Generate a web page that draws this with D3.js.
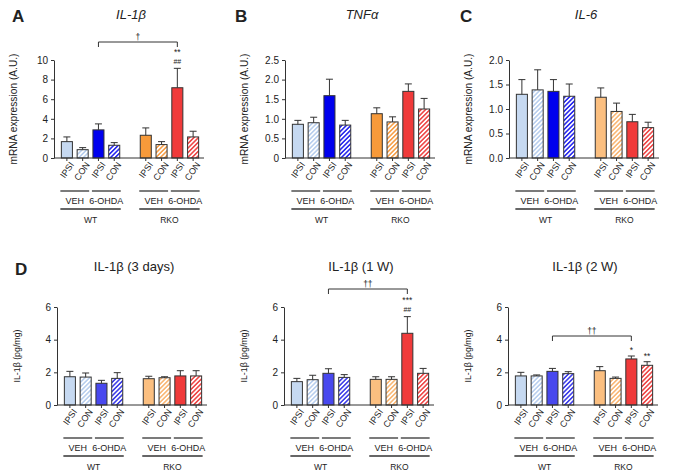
<!DOCTYPE html>
<html>
<head>
<meta charset="utf-8">
<script src="https://cdn.jsdelivr.net/npm/d3@7"></script>
<style>
  body { margin: 0; background: #fff; }
  text { font-family: "Liberation Sans", Arial, sans-serif; fill: #222; }
</style>
</head>
<body>
<script>
// categories
const sideLabels = ["IPSI", "CON", "IPSI", "CON", "IPSI", "CON", "IPSI", "CON"];
const treatmentLabels = ["VEH", "6-OHDA", "VEH", "6-OHDA"];
const genotypeLabels = ["WT", "RKO"];

// A: IL-1b mRNA
const il1bMrnaMean = [1.67, 0.85, 2.87, 1.30, 2.32, 1.37, 7.17, 2.15];
const il1bMrnaSem = [0.48, 0.21, 0.61, 0.27, 0.75, 0.30, 1.98, 0.58];
const il1bMrnaTicks = [0, 2, 4, 6, 8, 10];
const il1bMrnaStars = ["", "", "", "", "", "", "**", ""];
const il1bMrnaHash = ["", "", "", "", "", "", "##", ""];

// B: TNFa mRNA
const tnfMrnaMean = [0.86, 0.90, 1.59, 0.84, 1.13, 0.92, 1.70, 1.25];
const tnfMrnaSem = [0.10, 0.14, 0.42, 0.12, 0.15, 0.13, 0.19, 0.27];
const tnfMrnaTicks = ["0", "0.5", "1.0", "1.5", "2.0", "2.5"];

// C: IL-6 mRNA
const il6MrnaMean = [1.30, 1.39, 1.36, 1.26, 1.24, 0.95, 0.74, 0.62];
const il6MrnaSem = [0.30, 0.41, 0.24, 0.25, 0.19, 0.17, 0.15, 0.11];
const il6MrnaTicks = ["0.0", "0.5", "1.0", "1.5", "2.0"];

// D: IL-1b protein
const il1b3dMean = [1.73, 1.71, 1.33, 1.63, 1.61, 1.67, 1.78, 1.78];
const il1b3dSem = [0.33, 0.25, 0.18, 0.35, 0.15, 0.06, 0.32, 0.32];
const il1b1wMean = [1.43, 1.55, 1.94, 1.69, 1.57, 1.57, 4.39, 1.94];
const il1b1wSem = [0.20, 0.27, 0.28, 0.17, 0.16, 0.16, 1.02, 0.30];
const il1b1wStars = ["", "", "", "", "", "", "***", ""];
const il1b1wHash = ["", "", "", "", "", "", "##", ""];
const il1b2wMean = [1.78, 1.78, 2.06, 1.92, 2.10, 1.63, 2.82, 2.43];
const il1b2wSem = [0.22, 0.06, 0.18, 0.12, 0.25, 0.08, 0.18, 0.22];
const il1b2wStars = ["", "", "", "", "", "", "*", "**"];
const proteinTicks = [0, 2, 4, 6];

const noMarks = ["", "", "", "", "", "", "", ""];

// colour sets
const paletteAB = ["#c6d9f1", "#b9cfee", "#0000ee", "#2a2aee", "#f79a3a", "#f7a04a", "#f03a3a", "#ee4a4a"];
const paletteC = ["#c6d9f1", "#b9cfee", "#0000ee", "#2a2aee", "#fbbf80", "#f9b877", "#f03a3a", "#ee4a4a"];
const paletteD = ["#c6d9f1", "#b9cfee", "#4848ee", "#4040e8", "#fbbf80", "#f9b877", "#f03a3a", "#ee4a4a"];

const svg = d3.select("body").append("svg")
    .attr("width", 683)
    .attr("height", 475);

const defs = svg.append("defs");
const hatchIds = {};
function hatch(color) {
    if (hatchIds[color]) return hatchIds[color];
    const id = "hatch" + Object.keys(hatchIds).length;
    const p = defs.append("pattern")
        .attr("id", id)
        .attr("patternUnits", "userSpaceOnUse")
        .attr("width", 3.2)
        .attr("height", 3.2)
        .attr("patternTransform", "rotate(45)");
    p.append("rect").attr("width", 3.2).attr("height", 3.2).attr("fill", "#fff");
    p.append("rect").attr("width", 1.6).attr("height", 3.2).attr("fill", color);
    hatchIds[color] = id;
    return id;
}

const barKeys = ["b0", "b1", "b2", "b3", "b4", "b5", "b6", "b7"];
const slotKeys = ["b0", "b1", "b2", "b3", "gap", "b4", "b5", "b6", "b7"];

function drawPanel(cfg) {
    const g = svg.append("g");
    const ax = cfg.ax;
    const x = d3.scaleBand()
        .domain(slotKeys)
        .range([ax + 5, ax + 147])
        .paddingInner(0.3)
        .paddingOuter(0.15);
    const yMax = +cfg.ticks[cfg.ticks.length - 1];
    const y = d3.scaleLinear()
        .domain([0, yMax])
        .range([cfg.yBottom, cfg.yTop]);
    const bw = x.bandwidth();
    const cx = i => x(barKeys[i]) + bw / 2;

    // letter + title
    if (cfg.letter) {
        g.append("text")
            .attr("x", cfg.letterX)
            .attr("y", cfg.letterY)
            .style("font-size", "17px")
            .style("font-weight", "bold")
            .text(cfg.letter);
    }
    g.append("text")
        .attr("x", ax + 77)
        .attr("y", cfg.titleY)
        .attr("text-anchor", "middle")
        .style("font-size", "13px")
        .style("font-style", cfg.italic ? "italic" : "normal")
        .text(cfg.title);

    // y axis
    const yAxis = g.append("g")
        .attr("transform", `translate(${ax},0)`)
        .call(d3.axisLeft(y)
            .tickValues(cfg.ticks.map(Number))
            .tickFormat((d, i) => cfg.ticks[i])
            .tickSizeInner(3)
            .tickSizeOuter(0));
    yAxis.selectAll("path, line").attr("stroke", "#333");
    yAxis.selectAll("text").style("font-size", "10px").attr("fill", "#222")
        .style("font-family", "Liberation Sans, Arial, sans-serif");

    g.append("text")
        .attr("transform", `translate(${ax - 37},${(cfg.yTop + cfg.yBottom) / 2}) rotate(-90)`)
        .attr("text-anchor", "middle")
        .style("font-size", cfg.ylabelSize)
        .text(cfg.ylabel);

    // bars
    g.selectAll(".bar")
        .data(cfg.mean)
        .enter()
        .append("rect")
        .attr("class", "bar")
        .attr("x", (d, i) => x(barKeys[i]))
        .attr("y", d => y(d))
        .attr("width", bw)
        .attr("height", d => cfg.yBottom - y(d))
        .attr("fill", (d, i) => i % 2 === 0 ? cfg.colors[i] : `url(#${hatch(cfg.colors[i])})`)
        .attr("stroke", "#333")
        .attr("stroke-width", 1);

    // error bars
    g.selectAll(".err")
        .data(cfg.mean)
        .enter()
        .append("path")
        .attr("fill", "none")
        .attr("stroke", "#333")
        .attr("stroke-width", 1)
        .attr("d", (d, i) => {
            const top = y(d + cfg.sem[i]);
            return `M${cx(i)},${y(d)}V${top}M${cx(i) - 3.5},${top}H${cx(i) + 3.5}`;
        });

    // x axis
    const xAxis = g.append("g")
        .attr("transform", `translate(0,${cfg.yBottom})`)
        .call(d3.axisBottom(x)
            .tickValues(barKeys)
            .tickFormat("")
            .tickSizeInner(3)
            .tickSizeOuter(0));
    xAxis.select(".domain").remove();
    xAxis.selectAll("line").attr("stroke", "#333");
    g.append("line")
        .attr("x1", ax).attr("x2", ax + 150)
        .attr("y1", cfg.yBottom).attr("y2", cfg.yBottom)
        .attr("stroke", "#333");

    // rotated side labels
    g.selectAll(".side")
        .data(sideLabels)
        .enter()
        .append("text")
        .attr("transform", (d, i) => `translate(${cx(i) + 5},${cfg.yBottom + 5}) rotate(-55)`)
        .attr("text-anchor", "end")
        .attr("dy", "0.35em")
        .style("font-size", "9px")
        .text(d => d);

    // treatment lines and labels
    treatmentLabels.forEach((t, k) => {
        const left = x(barKeys[2 * k]) - 1;
        const right = x(barKeys[2 * k + 1]) + bw + 1;
        g.append("line")
            .attr("x1", left).attr("x2", right)
            .attr("y1", cfg.yBottom + 33).attr("y2", cfg.yBottom + 33)
            .attr("stroke", "#333").attr("stroke-width", 1.3);
        g.append("text")
            .attr("x", (left + right) / 2)
            .attr("y", cfg.yBottom + 46)
            .attr("text-anchor", "middle")
            .style("font-size", "9px")
            .text(t);
    });
    genotypeLabels.forEach((t, k) => {
        const left = x(barKeys[4 * k]) - 1;
        const right = x(barKeys[4 * k + 3]) + bw + 1;
        g.append("line")
            .attr("x1", left).attr("x2", right)
            .attr("y1", cfg.yBottom + 51).attr("y2", cfg.yBottom + 51)
            .attr("stroke", "#333").attr("stroke-width", 1.3);
        g.append("text")
            .attr("x", (left + right) / 2)
            .attr("y", cfg.yBottom + 65)
            .attr("text-anchor", "middle")
            .style("font-size", "8.5px")
            .text(t);
    });

    // bracket
    if (cfg.bracket) {
        const b = cfg.bracket;
        const x1 = cx(b.from), x2 = cx(b.to);
        g.append("path")
            .attr("fill", "none")
            .attr("stroke", "#333")
            .attr("d", `M${x1},${b.y + 5}V${b.y}H${x2}V${b.y + 5}`);
        g.append("text")
            .attr("x", (x1 + x2) / 2)
            .attr("y", b.y - 2)
            .attr("text-anchor", "middle")
            .style("font-size", "8.5px")
            .text(b.label);
    }

    // significance marks
    cfg.mean.forEach((d, i) => {
        const top = y(d + cfg.sem[i]);
        const hash = cfg.hash[i];
        const star = cfg.stars[i];
        let starBase = top - 3;
        if (hash) {
            g.append("text")
                .attr("x", cx(i)).attr("y", top - 4.5)
                .attr("text-anchor", "middle")
                .style("font-size", "7px")
                .text(hash);
            starBase = top - 13.5;
        }
        if (star) {
            g.append("text")
                .attr("x", cx(i)).attr("y", starBase)
                .attr("text-anchor", "middle")
                .style("font-size", "8.5px")
                .text(star);
        }
    });
}

const mrnaLabel = "mRNA expression (A.U.)";
const proteinLabel = "IL-1β (pg/mg)";

drawPanel({ letter: "A", letterX: 12, letterY: 22, title: "IL-1β", italic: true, titleY: 19,
    ax: 54, yTop: 60, yBottom: 158, ticks: il1bMrnaTicks, ylabel: mrnaLabel, ylabelSize: "10.2px",
    mean: il1bMrnaMean, sem: il1bMrnaSem, colors: paletteAB,
    stars: il1bMrnaStars, hash: il1bMrnaHash, bracket: { from: 2, to: 6, y: 42, label: "†" } });

drawPanel({ letter: "B", letterX: 235, letterY: 22, title: "TNFα", italic: true, titleY: 19,
    ax: 285, yTop: 60, yBottom: 158, ticks: tnfMrnaTicks, ylabel: mrnaLabel, ylabelSize: "10.2px",
    mean: tnfMrnaMean, sem: tnfMrnaSem, colors: paletteAB,
    stars: noMarks, hash: noMarks });

drawPanel({ letter: "C", letterX: 460, letterY: 22, title: "IL-6", italic: true, titleY: 19,
    ax: 509, yTop: 60, yBottom: 158, ticks: il6MrnaTicks, ylabel: mrnaLabel, ylabelSize: "10.2px",
    mean: il6MrnaMean, sem: il6MrnaSem, colors: paletteC,
    stars: noMarks, hash: noMarks });

drawPanel({ letter: "D", letterX: 15, letterY: 275, title: "IL-1β (3 days)", italic: false, titleY: 271,
    ax: 57, yTop: 307, yBottom: 405, ticks: proteinTicks, ylabel: proteinLabel, ylabelSize: "8.8px",
    mean: il1b3dMean, sem: il1b3dSem, colors: paletteD,
    stars: noMarks, hash: noMarks });

drawPanel({ title: "IL-1β (1 W)", italic: false, titleY: 271,
    ax: 284, yTop: 307, yBottom: 405, ticks: proteinTicks, ylabel: proteinLabel, ylabelSize: "8.8px",
    mean: il1b1wMean, sem: il1b1wSem, colors: paletteD,
    stars: il1b1wStars, hash: il1b1wHash, bracket: { from: 2, to: 6, y: 289, label: "††" } });

drawPanel({ title: "IL-1β (2 W)", italic: false, titleY: 271,
    ax: 508, yTop: 307, yBottom: 405, ticks: proteinTicks, ylabel: proteinLabel, ylabelSize: "8.8px",
    mean: il1b2wMean, sem: il1b2wSem, colors: paletteD,
    stars: il1b2wStars, hash: noMarks, bracket: { from: 2, to: 6, y: 336, label: "††" } });
</script>
</body>
</html>
